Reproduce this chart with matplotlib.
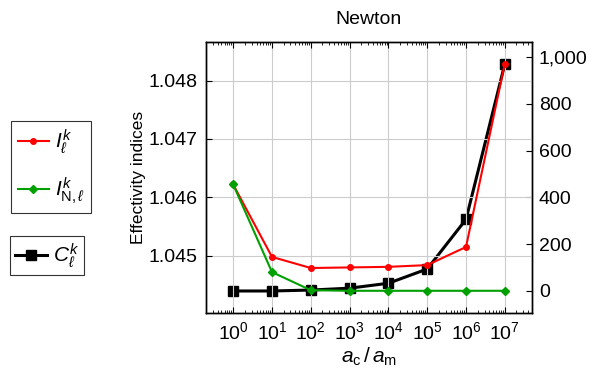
import matplotlib.pyplot as plt
import matplotlib.ticker as mticker
import numpy as np

plt.rcParams['font.family'] = ['Liberation Sans', 'DejaVu Sans']
plt.rcParams['mathtext.fontset'] = 'custom'
plt.rcParams['mathtext.rm'] = 'Liberation Sans'
plt.rcParams['mathtext.it'] = 'Liberation Sans:italic'

# ratio a_c / a_m
ratio = [1e0, 1e1, 1e2, 1e3, 1e4, 1e5, 1e6, 1e7]
# effectivity indices (left axis)
I_eff = [1.04622, 1.04498, 1.04479, 1.04480, 1.04481, 1.04484, 1.04515, 1.04829]
I_N_eff = [1.04622, 1.04472, 1.04441, 1.04440, 1.04440, 1.04440, 1.04440, 1.04440]
# C (right axis)
C_vals = [0, 0, 4, 12, 33, 94, 306, 970]

fig = plt.figure(figsize=(5.93, 3.68), dpi=100)
ax = fig.add_axes([0.3474, 0.1495, 0.5497, 0.7364])
ax2 = ax.twinx()
ax.set_zorder(ax2.get_zorder() + 1)
ax.patch.set_visible(False)

l_c, = ax2.plot(ratio, C_vals, '-s', color='black', lw=2.2, ms=7,
                label=r'$C_\ell^k$')
l_i, = ax.plot(ratio, I_eff, '-o', color='#ff0000', lw=1.5, ms=4,
               label=r'$I_\ell^k$')
l_n, = ax.plot(ratio, I_N_eff, '-D', color='#00a000', lw=1.5, ms=4,
               label=r'$I_{\mathrm{N},\ell}^k$')

ax.set_xscale('log')
ax.set_xlim(10**-0.7, 10**7.7)
ax.set_ylim(1.04402, 1.04866)
ax2.set_ylim(-94, 1064)

ax.set_xticks(ratio)
ax.xaxis.set_minor_locator(mticker.LogLocator(base=10, subs=np.arange(2, 10), numticks=20))
ax.set_yticks([1.045, 1.046, 1.047, 1.048])
ax.yaxis.set_major_formatter(mticker.FormatStrFormatter('%.3f'))
ax2.set_yticks([0, 200, 400, 600, 800, 1000])
ax2.yaxis.set_major_formatter(mticker.StrMethodFormatter('{x:,.0f}'))

ax.grid(True, which='major', color='#cccccc', lw=0.8)
ax.tick_params(which='both', direction='in', top=True, labelsize=14)
ax.tick_params(which='major', length=4, pad=6)
ax.tick_params(which='minor', length=2.5)
ax.tick_params(axis='y', which='both', right=False)
ax2.tick_params(direction='in', labelsize=14, length=4, pad=5)

for a in (ax, ax2):
    for s in a.spines.values():
        s.set_linewidth(1.0)

ax.set_title('Newton', fontsize=14, pad=13)
ax.set_ylabel('Effectivity indices', fontsize=12.5, labelpad=2)
ax.set_xlabel(r'$a_{\mathrm{c}}\,/\,a_{\mathrm{m}}$', fontsize=15, labelpad=2)

leg1 = fig.legend(handles=[l_i, l_n], loc='upper left', bbox_to_anchor=(0.019, 0.671),
                  fancybox=False, edgecolor='black', fontsize=15, handlelength=1.5,
                  handletextpad=0.3, labelspacing=0.95, borderpad=0.3, borderaxespad=0)
leg1.get_frame().set_linewidth(0.8)
leg2 = fig.legend(handles=[l_c], loc='upper left', bbox_to_anchor=(0.017, 0.359),
                  fancybox=False, edgecolor='black', fontsize=15, handlelength=1.5,
                  handletextpad=0.3, borderpad=0.25, borderaxespad=0)
leg2.get_frame().set_linewidth(0.8)

fig.savefig('out.png', dpi=100, facecolor='white')
